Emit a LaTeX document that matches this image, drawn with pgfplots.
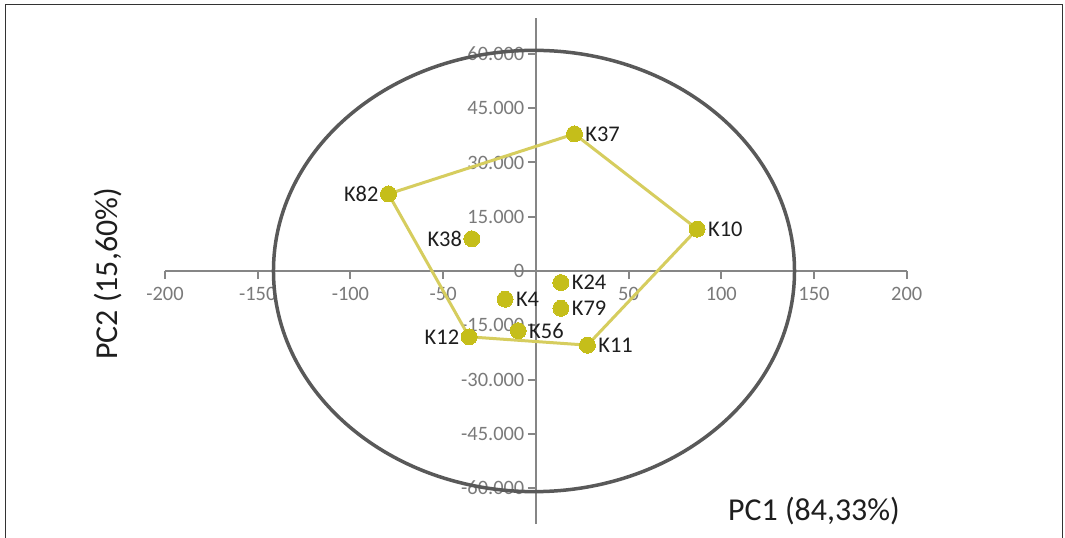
\documentclass[border=0pt]{standalone}
\usepackage{fontspec}
\setmainfont{Carlito}
\usepackage{pgfplots}
\pgfplotsset{compat=1.18}
\definecolor{axgray}{HTML}{868686}
\definecolor{ticklab}{HTML}{7A7A7A}
\definecolor{ellgray}{HTML}{595959}
\definecolor{dotc}{HTML}{C5BE1A}
\definecolor{linec}{HTML}{D6CD5E}
\definecolor{txt}{HTML}{1E1E1E}

\pgfplotstableread{
x y label
20.8 37.9 K37
87.0 11.6 K10
27.8 -20.5 K11
-16.6 -7.8 K4
-9.5 -16.5 K56
13.5 -3.2 K24
13.5 -10.3 K79
}\rightpts
\pgfplotstableread{
x y label
-79.5 21.3 K82
-36.0 -18.2 K12
-34.5 8.9 K38
}\leftpts

\begin{document}
\begin{tikzpicture}
\useasboundingbox (0,0) rectangle (1065bp,538bp);
\fill[white] (0,0) rectangle (1065bp,538bp);
\begin{axis}[
 at={(165bp,13.8bp)}, anchor=south west,
 scale only axis, width=741.7bp, height=506.4bp,
 xmin=-200, xmax=200, ymin=-70, ymax=70,
 axis lines=middle, axis line style={-, axgray, line width=2bp},
 xtick={-200,-150,-100,-50,50,100,150,200},
 xticklabels={-200,-150,-100,-50,50,100,150,200},
 ytick={-60,-45,-30,-15,0,15,30,45,60},
 yticklabels={-60.000,-45.000,-30.000,-15.000,0,15.000,30.000,45.000,60.000},
 hide obscured y ticks=false,
 tick style={axgray, line width=2bp},
 major tick length=8bp,
 tick align=outside,
 ticklabel style={font=\fontsize{20.5}{24}\selectfont, text=ticklab},
 xticklabel style={yshift=-5bp},
 clip=false,
]
\draw[ellgray, line width=3.5bp] (axis cs:-1,0) ellipse [x radius=140.5, y radius=61];
\addplot[linec, line width=3bp, mark=none] coordinates {(-79.5,21.3) (20.8,37.9) (87.0,11.6) (27.8,-20.5) (-36.0,-18.2) (-79.5,21.3)};
\addplot[dotc, only marks, mark=*, mark size=8bp, mark options={draw=dotc, fill=dotc, line width=0pt},
  point meta=explicit symbolic, nodes near coords,
  nodes near coords style={anchor=west, inner sep=0pt, xshift=11bp, yshift=0pt, font=\fontsize{22.5}{26}\selectfont, text=txt}]
  table[x=x, y=y, meta=label] {\rightpts};
\addplot[dotc, only marks, mark=*, mark size=8bp, mark options={draw=dotc, fill=dotc, line width=0pt},
  point meta=explicit symbolic, nodes near coords,
  nodes near coords style={anchor=east, inner sep=0pt, xshift=-10bp, yshift=0pt, font=\fontsize{22.5}{26}\selectfont, text=txt}]
  table[x=x, y=y, meta=label] {\leftpts};
\end{axis}
\node[anchor=base west, inner sep=0pt, font=\fontsize{32}{38}\selectfont, text=txt] at (728bp,18bp) {PC1 (84,33\%)};
\node[rotate=90, anchor=base, inner sep=0pt, font=\fontsize{32}{38}\selectfont, text=txt] at (117bp,264bp) {PC2 (15,60\%)};
\draw[color=black!80, line width=1.5bp] (1062.7bp,-5bp) -- (1062.7bp,533.5bp) -- (5.7bp,533.5bp) -- (5.7bp,-5bp);
\end{tikzpicture}
\end{document}
